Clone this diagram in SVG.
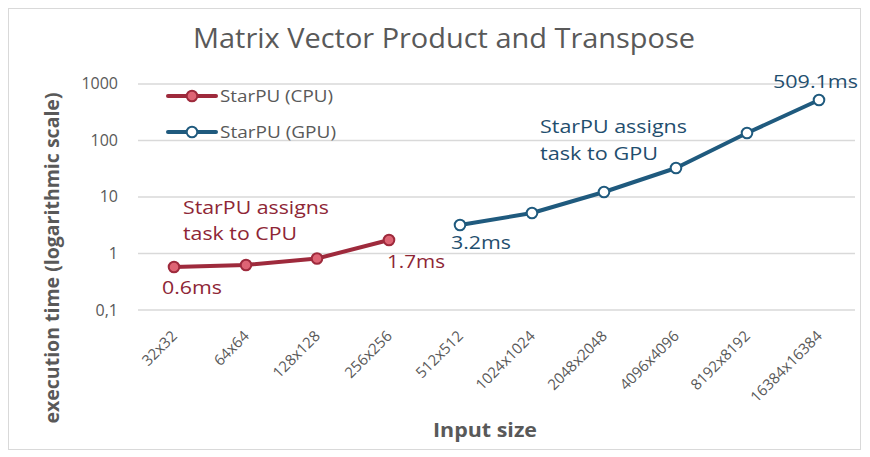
<svg xmlns="http://www.w3.org/2000/svg" width="870" height="457" viewBox="0 0 870 457">
<style>
.grid{stroke:#d9d9d9;stroke-width:1.3}
.ylab{font-family:"Open Sans","Liberation Sans",sans-serif;font-size:16px;fill:#595959;text-anchor:end}
.xlab{font-family:"Open Sans","Liberation Sans",sans-serif;font-size:15px;fill:#595959;text-anchor:end}
.cpu{fill:none;stroke:#9e2a3c;stroke-width:4;stroke-linejoin:round;stroke-linecap:round}
.gpu{fill:none;stroke:#1f5a7e;stroke-width:4;stroke-linejoin:round;stroke-linecap:round}
.cpum{fill:#de6474;stroke:#9e2a3c;stroke-width:2}
.gpum{fill:#ffffff;stroke:#1f5a7e;stroke-width:2}
.ann{font-family:"Open Sans","Liberation Sans",sans-serif;font-size:19px}
.cput{fill:#8e2636}
.gput{fill:#1f4e6e}
.leg{font-family:"Open Sans","Liberation Sans",sans-serif;font-size:16.5px;fill:#595959}
.axt{font-family:"Open Sans","Liberation Sans",sans-serif;font-size:20px;font-weight:bold;fill:#595959;text-anchor:middle}
</style>
<rect x="0" y="0" width="870" height="457" fill="#ffffff"/>
<rect x="8.5" y="8.5" width="852" height="441" fill="#ffffff" stroke="#d9d9d9" stroke-width="1"/>
<text x="444" y="48" font-family="'Open Sans','Liberation Sans',sans-serif" font-size="27" fill="#595959" text-anchor="middle" textLength="502" lengthAdjust="spacingAndGlyphs">Matrix Vector Product and Transpose</text>
<g id="gridlines">
<line class="grid" x1="138" y1="84" x2="855" y2="84"/>
<line class="grid" x1="138" y1="140.5" x2="855" y2="140.5"/>
<line class="grid" x1="138" y1="197" x2="855" y2="197"/>
<line class="grid" x1="138" y1="253.5" x2="855" y2="253.5"/>
<line class="grid" x1="138" y1="310" x2="855" y2="310"/>
</g>
<g id="y-axis">
<text class="ylab" x="118" y="89">1000</text>
<text class="ylab" x="118" y="145.5">100</text>
<text class="ylab" x="118" y="202">10</text>
<text class="ylab" x="118" y="258.5">1</text>
<text class="ylab" x="118" y="315.5">0,1</text>
<text class="axt" transform="translate(59,258) rotate(-90)" font-size="22" textLength="331" lengthAdjust="spacingAndGlyphs">execution time (logarithmic scale)</text>
</g>
<g id="x-axis">
<text class="xlab" transform="translate(178,337) rotate(-45)">32x32</text>
<text class="xlab" transform="translate(250,337) rotate(-45)">64x64</text>
<text class="xlab" transform="translate(321,337) rotate(-45)">128x128</text>
<text class="xlab" transform="translate(393,337) rotate(-45)">256x256</text>
<text class="xlab" transform="translate(464,337) rotate(-45)">512x512</text>
<text class="xlab" transform="translate(536,337) rotate(-45)">1024x1024</text>
<text class="xlab" transform="translate(608,337) rotate(-45)">2048x2048</text>
<text class="xlab" transform="translate(680,337) rotate(-45)">4096x4096</text>
<text class="xlab" transform="translate(751,337) rotate(-45)">8192x8192</text>
<text class="xlab" transform="translate(823,337) rotate(-45)">16384x16384</text>
<text class="axt" x="485" y="437" textLength="104" lengthAdjust="spacingAndGlyphs">Input size</text>
</g>
<g id="series-cpu">
<polyline class="cpu" points="174,267 246,265 317,258.5 389,240"/>
<circle class="cpum" cx="174" cy="267" r="5.3"/>
<circle class="cpum" cx="246" cy="265" r="5.3"/>
<circle class="cpum" cx="317" cy="258.5" r="5.3"/>
<circle class="cpum" cx="389" cy="240" r="5.3"/>
</g>
<g id="series-gpu">
<polyline class="gpu" points="460,225 532,213 604,192 676,168 747,133 819,100"/>
<circle class="gpum" cx="460" cy="225" r="5.3"/>
<circle class="gpum" cx="532" cy="213" r="5.3"/>
<circle class="gpum" cx="604" cy="192" r="5.3"/>
<circle class="gpum" cx="676" cy="168" r="5.3"/>
<circle class="gpum" cx="747" cy="133" r="5.3"/>
<circle class="gpum" cx="819" cy="100" r="5.3"/>
</g>
<g id="legend">
<line class="cpu" x1="168" y1="96" x2="216" y2="96"/>
<circle class="cpum" cx="192" cy="96" r="5.3"/>
<text class="leg" x="220" y="101.5" textLength="113" lengthAdjust="spacingAndGlyphs">StarPU (CPU)</text>
<line class="gpu" x1="168" y1="132" x2="216" y2="132"/>
<circle class="gpum" cx="192" cy="132" r="5.3"/>
<text class="leg" x="220" y="137.5" textLength="116" lengthAdjust="spacingAndGlyphs">StarPU (GPU)</text>
</g>
<g id="annotations">
<text class="ann cput" x="183" y="214" textLength="146" lengthAdjust="spacingAndGlyphs">StarPU assigns</text>
<text class="ann cput" x="183" y="240" textLength="114" lengthAdjust="spacingAndGlyphs">task to CPU</text>
<text class="ann cput" x="162" y="294" textLength="60" lengthAdjust="spacingAndGlyphs">0.6ms</text>
<text class="ann cput" x="387" y="268" textLength="58" lengthAdjust="spacingAndGlyphs">1.7ms</text>
<text class="ann gput" x="540" y="133" textLength="147" lengthAdjust="spacingAndGlyphs">StarPU assigns</text>
<text class="ann gput" x="540" y="160" textLength="118" lengthAdjust="spacingAndGlyphs">task to GPU</text>
<text class="ann gput" x="451" y="249" textLength="60" lengthAdjust="spacingAndGlyphs">3.2ms</text>
<text class="ann gput" x="773" y="88" textLength="85" lengthAdjust="spacingAndGlyphs">509.1ms</text>
</g>
</svg>
